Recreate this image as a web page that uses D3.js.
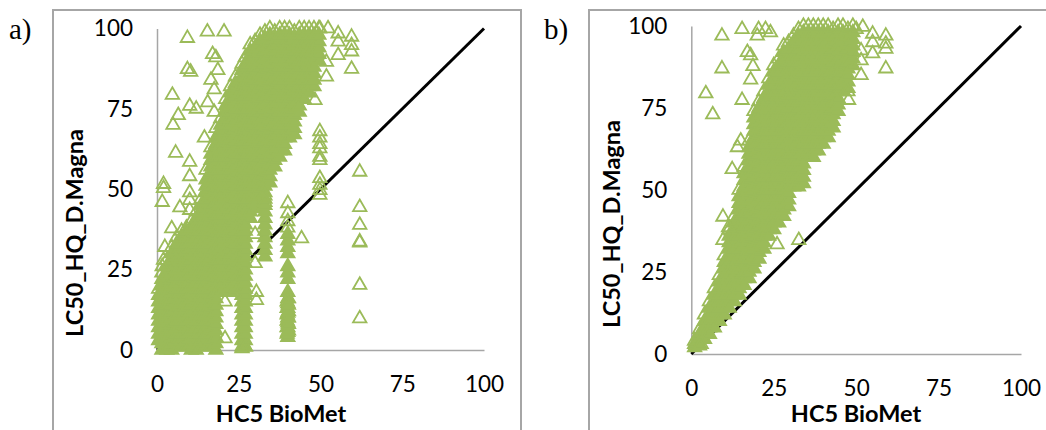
<!DOCTYPE html>
<html><head><meta charset="utf-8">
<script src="https://cdn.jsdelivr.net/npm/d3@7"></script>
<style>html,body{margin:0;padding:0;background:#fff}svg{display:block}</style>
</head><body><svg id="c" width="1046" height="430"></svg>
<script>
const tickValues = [0, 25, 50, 75, 100];
const xTitle = "HC5 BioMet";
const yTitle = "LC50_HQ_D.Magna";
const refLine = [0, 100];

// Panel a: dense columns [x, y values]
const aColX = [0.5,1.5,3,4.5,6,7.5,9,10.5,12,13.5,15,16.5,18,19.5,21,22.5,24,26,27,28.5,30,31.5,33,34.5,36,37.5,39,40.5,42,43.5,45,46.5,48,49.5,40,39.8,40.2];
const aColY = [
 [3,5,7,9,11,13,15,17,19],
 [0,2,4,6,8,10,12,14,16,18,20,22,24],
 [0,2,4,6,8,10,12,14,16,18,20,22,24,26,28],
 [0,2,4,6,8,10,12,14,16,18,20,22,24,26,28,30,32],
 [1,3,5,7,9,11,13,15,17,19,21,23,25,27,29,31,33,35],
 [1,3,5,7,9,11,13,15,17,19,21,23,25,27,29,31,33,35,37],
 [1,3,5,7,9,11,13,15,17,19,21,23,25,27,29,31,33,35,37,38],
 [0,2,4,6,8,10,12,14,16,18,20,22,24,26,28,30,32,34,36,38,40],
 [0,3,5,7,9,11,13,15,17,19,21,23,25,27,29,31,33,35,37,39,41,43],
 [1,3,5,7,9,11,13,15,17,19,21,23,25,27,29,31,33,35,37,39,41,43,45,47],
 [1,3,5,7,9,11,13,15,17,19,21,23,25,27,29,31,33,35,37,39,41,43,45,47,49,51,53,56],
 [1,3,5,7,9,11,13,15,17,19,21,23,25,27,29,31,33,35,37,39,41,43,45,47,49,51,53,55,57,59,61,63],
 [0,2,4,6,8,10,12,14,16,18,20,22,24,26,28,30,32,34,36,38,40,42,44,46,48,50,52,54,56,58,60,62,64,66,69],
 [18,20,22,24,26,28,30,32,34,36,38,40,42,44,46,48,50,52,54,56,58,60,62,64,66,68,70,72],
 [18,20,22,24,26,28,30,32,34,36,38,40,42,44,46,48,50,52,54,56,58,60,62,64,66,68,70,72,74,76,78],
 [18,20,22,24,26,28,30,32,34,36,38,40,42,44,46,48,50,52,54,56,58,60,62,64,66,68,70,72,74,76,78,80,82],
 [19,21,23,25,27,29,31,33,35,37,39,41,43,45,47,49,51,53,55,57,59,61,63,65,67,69,71,73,75,77,79,81,83,85],
 [1,3,5,7,9,11,13,15,17,19,21,23,25,27,29,31,33,35,37,39,41,43,45,47,49,51,53,55,57,59,61,63,65,67,69,71,73,75,77,79,81,83,85,87,89],
 [1,3,5,7,9,11,13,15,17,19,21,23,25,27,29,31,33,35,37,39,41,43,45,47,49,51,53,55,57,59,61,63,65,67,69,71,73,75,77,79,81,83,85,87,89,91],
 [41,43,45,47,49,51,53,55,57,59,61,63,65,67,69,71,73,75,77,79,81,83,85,87,89,91,93,95],
 [44,46,48,50,52,54,56,58,60,62,64,66,68,70,72,74,76,78,80,82,84,86,88,90,92,94,96],
 [48,50,52,54,56,58,60,62,64,66,68,70,72,74,76,78,80,82,84,86,88,90,92,94,96,98],
 [29,31,33,35,37,39,41,43,45,47,49,51,53,55,57,59,61,63,65,67,69,71,73,75,77,79,81,83,85,87,89,91,93,95,97,99],
 [52,54,56,58,60,62,64,66,68,70,72,74,76,78,80,82,84,86,88,90,92,94,96,98,100],
 [57,59,61,63,65,67,69,71,73,75,77,79,81,83,85,87,89,91,93,95,97,99],
 [60,62,64,66,68,70,72,74,76,78,80,82,84,86,88,90,92,94,96,98,100],
 [62,64,66,68,70,72,74,76,78,80,82,84,86,88,90,92,94,96,98,100],
 [66,68,70,72,74,76,78,80,82,84,86,88,90,92,94,96,98,100],
 [67,69,71,73,75,77,79,81,83,85,87,89,91,93,95,97,99],
 [74,76,78,80,82,84,86,88,90,92,94,96,98,100],
 [78,80,82,84,86,88,90,92,94,96,98,100],
 [80,82,84,86,88,90,92,94,96,98,100],
 [82,84,86,88,90,92,94,96,98,100],
 [90,92,94,96,98,100],
 [4,5.5,7,8.5,10,11.5,13,14.5,16,18,22,24,26,30,32,34,36,38],
 [5,7,9,11,13,15],
 [6,8,10,12,14,16]
];
// Panel a: separate points, read individually
const aPtX = [9.3,15.4,20.5,9.3,10.3,4.7,6.5,4.9,10,12,5.7,2,2,1.6,10,10,10,10,7,10,4.5,2.4,2,1.6,30.4,30.4,20.8,20.8,30,30,44.2,40,40,40,33,33,49.8,49.8,49.8,49.8,49.8,49.8,49.8,49.8,49.8,49.8,62,62,62,62,62,62,62,59.5,59.5,59.5,59.5,55.4,55.4,55.4,51.8,51.8,48.3,49.8,52.3,26,27,17,18,16.5,18.6,17.5,15.5,14.5,17.5];
const aPtY = [97,99,99,87.3,86.5,79.3,73,70,75.9,75,61.3,51.6,50.3,46,58.5,54,49,46.6,44.3,43.5,37.8,32,28,26,18,15.5,15,3.6,27,36,34.7,45.6,42.5,40,48,46,68,66,64,62.7,60,59,53.4,51.3,49.7,48.2,55.4,44.4,38.9,33.7,33.4,20.2,9.8,97.4,94.8,92.8,87.4,98.4,95.9,91.7,85,89.6,77.7,100,100,0.5,1,92,91,84,87,81,77,66,74];

// Panel b: dense columns [x, y values]
const bColX = [1,2.5,4,5.5,7,8.5,10,11.5,13,14.5,16,17.5,19,20.5,22,23.5,25,26.5,28,29.5,31,32.5,34,35.5,37,38.5,40,41.5,43,44.5,46,47.5,49];
const bColY = [
 [2,3,4],
 [3,4.5,6,7.5],
 [4.5,6,8,10,12],
 [6,8,10,12,14,16],
 [8,10,12,14,16,18,20],
 [10,12,14,16,18,20,22,24],
 [12,14,16,18,20,22,24,26,28,30],
 [14,16,18,20,22,24,26,28,30,32,34,36,38],
 [16,18,20,22,24,26,28,30,32,34,36,38,40,42],
 [18,20,22,24,26,28,30,32,34,36,38,40,42,44,46,48,50],
 [21,23,25,27,29,31,33,35,37,39,41,43,45,47,49,51,53,55,57],
 [23,25,27,29,31,33,35,37,39,41,43,45,47,49,51,53,55,57,59,61,63,65],
 [26,28,30,32,34,36,38,40,42,44,46,48,50,52,54,56,58,60,62,64,66,68,70,72,74],
 [29,31,33,35,37,39,41,43,45,47,49,51,53,55,57,59,61,63,65,67,69,71,73,75,77],
 [32,34,36,38,40,42,44,46,48,50,52,54,56,58,60,62,64,66,68,70,72,74,76,78,80],
 [36,38,40,42,44,46,48,50,52,54,56,58,60,62,64,66,68,70,72,74,76,78,80,82,84],
 [38,40,42,44,46,48,50,52,54,56,58,60,62,64,66,68,70,72,74,76,78,80,82,84,86,88],
 [40,42,44,46,48,50,52,54,56,58,60,62,64,66,68,70,72,74,76,78,80,82,84,86,88,90],
 [42,44,46,48,50,52,54,56,58,60,62,64,66,68,70,72,74,76,78,80,82,84,86,88,90,92,94],
 [45,47,49,51,53,55,57,59,61,63,65,67,69,71,73,75,77,79,81,83,85,87,89,91,93,95],
 [51,53,55,57,59,61,63,65,67,69,71,73,75,77,79,81,83,85,87,89,91,93,95,97],
 [51,53,55,57,59,61,63,65,67,69,71,73,75,77,79,81,83,85,87,89,91,93,95,97,99],
 [52,54,56,58,60,62,64,66,68,70,72,74,76,78,80,82,84,86,88,90,92,94,96,98,100],
 [60,62,64,66,68,70,72,74,76,78,80,82,84,86,88,90,92,94,96,98,100],
 [60,62,64,66,68,70,72,74,76,78,80,82,84,86,88,90,92,94,96,98,100],
 [62,64,66,68,70,72,74,76,78,80,82,84,86,88,90,92,94,96,98,100],
 [64,66,68,70,72,74,76,78,80,82,84,86,88,90,92,94,96,98,100],
 [66,68,70,72,74,76,78,80,82,84,86,88,90,92,94,96,98,100],
 [69,71,73,75,77,79,81,83,85,87,89,91,93,95,97,99],
 [74,76,78,80,82,84,86,88,90,92,94,96,98,100],
 [80,82,84,86,88,90,92,94,96,98,100],
 [81,83,85,87,89,91,93,95,97,99],
 [88,90,92,94,96,98,100]
];
// Panel b: separate points, read individually
const bPtX = [9.3,15.4,20.4,9.3,4.4,6.5,32.6,26,9.6,11.3,9.6,12.4,15.4,17,18,18.7,18,59,59,59,59,55,55,55,51.5,51.5,51.5,47.7,47.5,52,50,2.5,3,14,15,24,22.5,20];
const bPtY = [97,99,99,87,79.4,73,34.7,33.4,41.8,38.6,34.7,56.3,77.4,92,91,87.7,83.6,87,97,94.6,93,97.6,95,91.6,85,89.5,92.5,77.4,80,99.7,99,2.5,3,63,65,98,99,97];

// Column tops sit on the fringe of the cloud, where the hollow outline still shows.
function zipPoints(colX, colY, ptX, ptY) {
  const out = [];
  colX.forEach((x, i) => colY[i].forEach((y, j) => out.push([x, y, j < colY[i].length - 1])));
  ptX.forEach((x, i) => out.push([x, ptY[i], false]));
  return out;
}

const svg = d3.select("#c");
const FRAME = "#a6a6a6", GREEN = "#9bbb59";
const tri = d3.symbol().type(d3.symbolTriangle).size(78)();

function panel(o) {
  svg.append("path").attr("fill", "none").attr("stroke", FRAME).attr("stroke-width", 2)
    .attr("d", o.frame);
  const x = d3.scaleLinear().domain([0, 100]).range([o.x0, o.x1]);
  const y = d3.scaleLinear().domain([0, 100]).range([o.y0, o.y1]);
  const ax = g => g.call(s => s.selectAll(".domain").attr("stroke", FRAME).attr("stroke-width", 1.5))
    .call(s => s.selectAll("text").attr("fill", "#000").attr("font-family", "Lato").attr("font-size", 22.5));
  svg.append("g").attr("transform", `translate(0,${o.y0})`)
    .call(d3.axisBottom(x).tickValues(tickValues).tickSize(0).tickPadding(o.padX)).call(ax);
  svg.append("g").attr("transform", `translate(${o.x0},0)`)
    .call(d3.axisLeft(y).tickValues(tickValues).tickSize(0).tickPadding(24)).call(ax);
  svg.append("line").attr("x1", x(refLine[0])).attr("y1", y(refLine[0]))
    .attr("x2", x(refLine[1])).attr("y2", y(refLine[1]))
    .attr("stroke", "#000").attr("stroke-width", 3);
  svg.append("g").selectAll("path").data(o.points).join("path")
    .attr("d", tri).attr("fill", d => d[2] ? GREEN : "none")
    .attr("stroke", GREEN).attr("stroke-width", 1.8)
    .attr("transform", d => `translate(${x(d[0])},${y(d[1])})`);
  svg.append("text").attr("x", o.titleX).attr("y", 422).attr("text-anchor", "middle")
    .attr("font-family", "Lato").attr("font-weight", 700).attr("font-size", 23.5).text(xTitle);
  svg.append("text").attr("transform", `translate(${o.yTitleX},${o.yTitleY}) rotate(-90)`)
    .attr("text-anchor", "middle").attr("font-family", "Lato").attr("font-weight", 700)
    .attr("font-size", 23.5).text(yTitle);
  svg.append("text").attr("x", o.tagX).attr("y", 39).attr("font-family", "Liberation Serif")
    .attr("font-size", 29).text(o.tag);
}

panel({ tag: "a)", tagX: 9, frame: "M53,430V10H521V430", x0: 157, x1: 484, y0: 350, y1: 28.5,
  padX: 26, titleX: 281, yTitleX: 83, yTitleY: 233, points: zipPoints(aColX, aColY, aPtX, aPtY) });
panel({ tag: "b)", tagX: 544, frame: "M589,430V10H1046", x0: 691.3, x1: 1021, y0: 354, y1: 26,
  padX: 26, titleX: 856, yTitleX: 620, yTitleY: 224, points: zipPoints(bColX, bColY, bPtX, bPtY) });
</script></body></html>
